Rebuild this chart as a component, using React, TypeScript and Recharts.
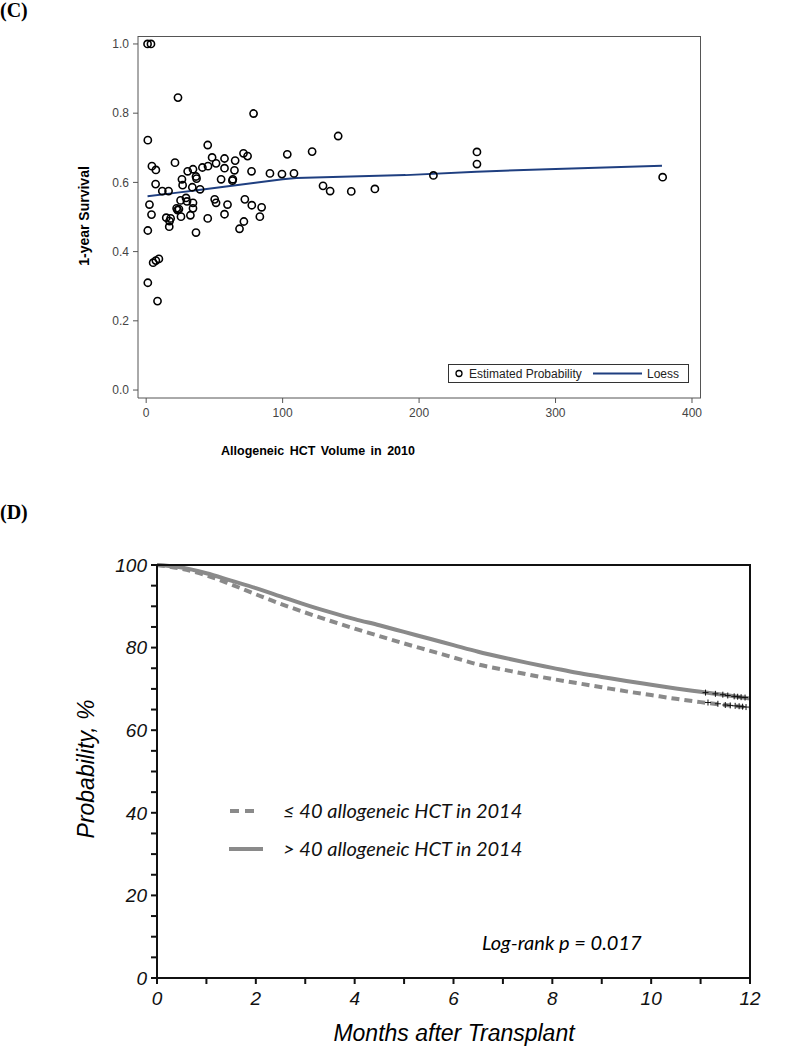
import React from "react";
import {
  ComposedChart,
  Scatter,
  Line,
  XAxis,
  YAxis,
} from "recharts";

// (C) centre-level scatter: allogeneic HCT volume vs estimated 1-year survival
const volume = [
  1, 3.5, 1.2, 4.2, 7.1, 6.9, 2.4, 3.9, 1.2, 5.1, 7.1, 9.3, 1.2, 8.3, 11.8, 16.4,
  21.1, 14.7, 17.9, 17.1, 16.9, 23.3, 22.3, 23.0, 24.0, 25.5, 25.2, 26.2, 26.7,
  30.4, 29.2, 29.9, 32.4, 34.3, 33.8, 34.3, 34.3, 36.5, 36.9, 36.5, 39.5, 41.2,
  45.1, 45.3, 45.1, 48.3, 51.2, 50.2, 51.2, 54.9, 57.4, 57.4, 57.4, 59.6, 63.5,
  63.2, 64.7, 65.2, 68.4, 71.3, 74.3, 71.6, 72.3, 77.2, 77.4, 78.7, 83.3, 84.6,
  90.7, 99.5, 103.4, 108.3, 121.6, 129.6, 134.8, 140.7, 150.3, 167.6, 210.5,
  242.4, 242.4, 378.5,
];
const survival = [
  1.0, 1.0, 0.722, 0.647, 0.636, 0.595, 0.536, 0.507, 0.461, 0.368, 0.374, 0.379,
  0.31, 0.257, 0.575, 0.575, 0.657, 0.498, 0.496, 0.488, 0.472, 0.845, 0.525,
  0.52, 0.523, 0.501, 0.548, 0.609, 0.592, 0.632, 0.555, 0.545, 0.505, 0.638,
  0.586, 0.541, 0.525, 0.617, 0.611, 0.455, 0.58, 0.643, 0.708, 0.647, 0.496,
  0.672, 0.655, 0.551, 0.541, 0.609, 0.669, 0.641, 0.508, 0.536, 0.609, 0.605,
  0.635, 0.663, 0.466, 0.684, 0.676, 0.487, 0.551, 0.632, 0.534, 0.799, 0.501,
  0.528, 0.626, 0.624, 0.681, 0.626, 0.689, 0.59, 0.575, 0.734, 0.574, 0.581,
  0.62, 0.688, 0.653, 0.615,
];
const loessX = [1, 20, 40, 60, 80, 100, 110, 150, 190, 242, 300, 378];
const loessY = [0.56, 0.569, 0.579, 0.589, 0.599, 0.609, 0.613, 0.617, 0.621, 0.631, 0.639, 0.648];
const volumeTicks = [0, 100, 200, 300, 400];
const survivalTicks = [0, 0.2, 0.4, 0.6, 0.8, 1.0];

// (D) survival curves by centre volume
const months = [0, 0.5, 1, 1.5, 2, 2.5, 3, 3.5, 4, 4.5, 5, 5.5, 6, 6.5, 7, 7.5, 8, 8.5, 9, 9.5, 10, 10.5, 11, 11.5, 12];
const highVolume = [100, 99.4, 98.0, 96.2, 94.4, 92.4, 90.4, 88.6, 86.9, 85.4, 83.8, 82.2, 80.6, 79.0, 77.6, 76.3, 75.1, 73.9, 72.9, 71.9, 71.0, 70.1, 69.3, 68.5, 67.7];
const lowVolume = [100, 99.1, 97.5, 95.3, 92.9, 90.6, 88.5, 86.5, 84.6, 82.8, 81.0, 79.3, 77.6, 75.9, 74.7, 73.5, 72.4, 71.4, 70.4, 69.4, 68.5, 67.6, 66.8, 66.1, 65.5];
const censorHighMonths = [11.1, 11.3, 11.45, 11.55, 11.68, 11.75, 11.82, 11.9];
const censorHighValues = [69.1, 68.8, 68.6, 68.4, 68.2, 68.1, 68.0, 67.9];
const censorLowMonths = [11.15, 11.35, 11.5, 11.6, 11.7, 11.78, 11.85, 11.92];
const censorLowValues = [66.7, 66.4, 66.1, 66.0, 65.9, 65.8, 65.7, 65.6];
const monthTicks = [0, 1, 2, 3, 4, 5, 6, 7, 8, 9, 10, 11, 12];
const probTicks = [0, 5, 10, 15, 20, 25, 30, 35, 40, 45, 50, 55, 60, 65, 70, 75, 80, 85, 90, 95, 100];

const scatterData = volume.map((x, i) => ({ x, y: survival[i] }));
const loessData = loessX.map((x, i) => ({ x, y: loessY[i] }));
const kmHigh = months.map((x, i) => ({ x, y: highVolume[i] }));
const kmLow = months.map((x, i) => ({ x, y: lowVolume[i] }));
const censorHigh = censorHighMonths.map((x, i) => ({ x, y: censorHighValues[i] }));
const censorLow = censorLowMonths.map((x, i) => ({ x, y: censorLowValues[i] }));

const SANS = "'Liberation Sans', Arial, sans-serif";
const LOESS_BLUE = "#1f3f80";
const KM_GRAY = "#8a8a8a";

const OpenCircle = (props: any) => (
  <circle cx={props.cx} cy={props.cy} r={3.6} fill="none" stroke="#000" strokeWidth={1.6} />
);

const Plus = (props: any) => (
  <path
    d={`M${props.cx - 3},${props.cy}H${props.cx + 3}M${props.cx},${props.cy - 3}V${props.cy + 3}`}
    stroke="#111"
    strokeWidth={1}
  />
);

const panelLabel: React.CSSProperties = {
  position: "absolute",
  left: 0,
  fontFamily: "'Liberation Serif', 'Times New Roman', serif",
  fontWeight: "bold",
  fontSize: 20,
  lineHeight: "20px",
};

function ScatterPanel() {
  const tickStyle = { fontFamily: SANS, fontSize: 12, fill: "#444" };
  return (
    <div style={{ position: "absolute", left: 0, top: 0, width: 800, height: 470 }}>
      <ComposedChart width={800} height={470} margin={{ top: 36, right: 99, bottom: 42, left: 0 }}>
        <XAxis
          type="number"
          dataKey="x"
          domain={[-6, 406.6]}
          ticks={volumeTicks}
          allowDataOverflow
          height={30}
          stroke="#555"
          tickSize={5}
          tickMargin={5}
          tick={tickStyle}
        />
        <YAxis
          type="number"
          dataKey="y"
          domain={[-0.023, 1.023]}
          ticks={survivalTicks}
          allowDataOverflow
          width={138}
          stroke="#555"
          tickSize={5}
          tickMargin={4}
          tick={tickStyle}
          tickFormatter={(v: number) => v.toFixed(1)}
        />
        <Scatter data={scatterData} shape={OpenCircle} isAnimationActive={false} />
        <Line data={loessData} dataKey="y" type="linear" stroke={LOESS_BLUE} strokeWidth={2} dot={false} isAnimationActive={false} />
      </ComposedChart>
      {/* top and right edges of the plot frame */}
      <div style={{ position: "absolute", left: 138, top: 36, width: 563, height: 362, borderTop: "1px solid #555", borderRight: "1px solid #555", boxSizing: "border-box", pointerEvents: "none" }} />
      <div
        style={{
          position: "absolute",
          left: 84,
          top: 216,
          transform: "translate(-50%, -50%) rotate(-90deg)",
          fontFamily: SANS,
          fontWeight: "bold",
          fontSize: 14,
          whiteSpace: "nowrap",
        }}
      >
        1-year Survival
      </div>
      <div
        style={{
          position: "absolute",
          left: 318,
          top: 451,
          transform: "translate(-50%, -50%)",
          fontFamily: SANS,
          fontWeight: "bold",
          fontSize: 12.5,
          wordSpacing: 2,
          whiteSpace: "nowrap",
        }}
      >
        Allogeneic HCT Volume in 2010
      </div>
      <svg style={{ position: "absolute", left: 448, top: 364 }} width={241} height={19}>
        <rect x={0.5} y={0.5} width={240} height={18} fill="#fff" stroke="#333" strokeWidth={1} />
        <circle cx={11} cy={9.5} r={3} fill="none" stroke="#000" strokeWidth={1.3} />
        <text x={21} y={14} fontFamily={SANS} fontSize={12} fill="#222">
          Estimated Probability
        </text>
        <line x1={145} x2={194} y1={9.5} y2={9.5} stroke={LOESS_BLUE} strokeWidth={2} />
        <text x={199} y={14} fontFamily={SANS} fontSize={12} fill="#222">
          Loess
        </text>
      </svg>
    </div>
  );
}

function SurvivalPanel() {
  const tickStyle = { fontFamily: SANS, fontSize: 19, fontStyle: "italic", fill: "#111" };
  const fmt = (v: number) => (v % 20 === 0 ? String(v) : "");
  const fmtX = (v: number) => (v % 2 === 0 ? String(v) : "");
  return (
    <div style={{ position: "absolute", left: 0, top: 480, width: 800, height: 569 }}>
      <ComposedChart width={800} height={569} margin={{ top: 85, right: 0, bottom: 31, left: 0 }}>
        <XAxis
          type="number"
          dataKey="x"
          domain={[0, 12]}
          ticks={monthTicks}
          interval={0}
          height={40}
          stroke="#111"
          strokeWidth={2}
          tickSize={6}
          tickMargin={8}
          tick={tickStyle}
          tickFormatter={fmtX}
        />
        <YAxis
          type="number"
          dataKey="y"
          domain={[0, 100]}
          ticks={probTicks}
          interval={0}
          width={157}
          stroke="#111"
          strokeWidth={2}
          tickSize={6}
          tickMargin={4}
          tick={tickStyle}
          tickFormatter={fmt}
        />
        <YAxis
          yAxisId="right"
          type="number"
          orientation="right"
          domain={[0, 100]}
          ticks={probTicks}
          interval={0}
          width={50}
          stroke="#111"
          strokeWidth={2}
          tickSize={6}
          tickMargin={4}
          tick={tickStyle}
          tickFormatter={fmt}
        />
        <Line data={kmLow} dataKey="y" type="monotone" stroke={KM_GRAY} strokeWidth={4} strokeDasharray="8 5" dot={false} isAnimationActive={false} />
        <Line data={kmHigh} dataKey="y" type="monotone" stroke={KM_GRAY} strokeWidth={4} dot={false} isAnimationActive={false} />
        <Scatter data={censorHigh} shape={Plus} isAnimationActive={false} />
        <Scatter data={censorLow} shape={Plus} isAnimationActive={false} />
      </ComposedChart>
      {/* top edge of the plot frame */}
      <div style={{ position: "absolute", left: 156, top: 84, width: 595, height: 0, borderTop: "2px solid #111", pointerEvents: "none" }} />
      <div
        style={{
          position: "absolute",
          left: 86,
          top: 289,
          transform: "translate(-50%, -50%) rotate(-90deg)",
          fontFamily: SANS,
          fontStyle: "italic",
          fontSize: 23,
          whiteSpace: "nowrap",
        }}
      >
        Probability, %
      </div>
      <div
        style={{
          position: "absolute",
          left: 454,
          top: 553,
          transform: "translate(-50%, -50%)",
          fontFamily: SANS,
          fontStyle: "italic",
          fontSize: 23,
          whiteSpace: "nowrap",
        }}
      >
        Months after Transplant
      </div>
      <svg style={{ position: "absolute", left: 220, top: 315 }} width={400} height={72}>
        <line x1={10} x2={38} y1={16} y2={16} stroke={KM_GRAY} strokeWidth={4} strokeDasharray="9 6" />
        <text x={63} y={23} fontFamily="Lato, sans-serif" fontStyle="italic" fontSize={20} fill="#111">
          ≤ 40 allogeneic HCT in 2014
        </text>
        <line x1={9} x2={43} y1={54} y2={54} stroke={KM_GRAY} strokeWidth={4} />
        <text x={63} y={61} fontFamily="Lato, sans-serif" fontStyle="italic" fontSize={20} fill="#111">
          &gt; 40 allogeneic HCT in 2014
        </text>
      </svg>
      <div
        style={{
          position: "absolute",
          left: 482,
          top: 450,
          fontFamily: "Lato, sans-serif",
          fontStyle: "italic",
          fontSize: 20,
          whiteSpace: "nowrap",
        }}
      >
        Log-rank p = 0.017
      </div>
    </div>
  );
}

export default function App() {
  return (
    <div style={{ position: "absolute", left: 0, top: 0, width: 800, height: 1049, background: "#fff" }}>
      <div style={{ ...panelLabel, top: 0 }}>(C)</div>
      <div style={{ ...panelLabel, top: 502 }}>(D)</div>
      <ScatterPanel />
      <SurvivalPanel />
    </div>
  );
}
